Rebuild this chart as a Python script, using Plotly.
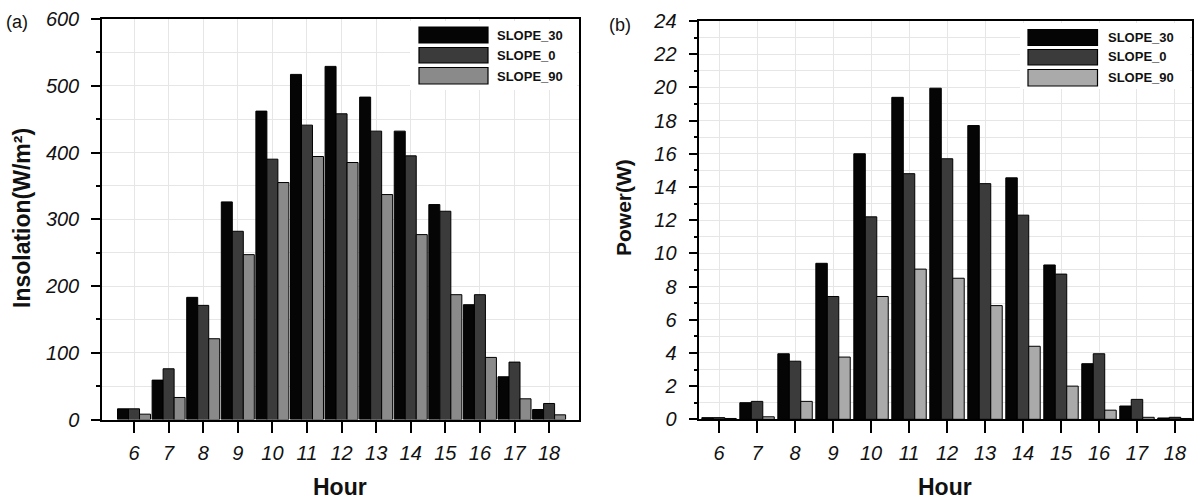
import plotly.graph_objects as go

# ---------------- data ----------------
hours = [6, 7, 8, 9, 10, 11, 12, 13, 14, 15, 16, 17, 18]
series_names = ["SLOPE_30", "SLOPE_0", "SLOPE_90"]

insolation_30 = [16, 59, 183, 326, 462, 517, 529, 483, 432, 322, 172, 64, 15]
insolation_0 = [16, 76, 171, 282, 390, 441, 458, 432, 395, 312, 187, 86, 24]
insolation_90 = [8, 33, 121, 247, 355, 394, 385, 337, 277, 187, 93, 31, 7]

power_30 = [0.1, 1.0, 3.95, 9.4, 16.0, 19.4, 19.95, 17.7, 14.55, 9.3, 3.35, 0.8, 0.08]
power_0 = [0.1, 1.08, 3.5, 7.4, 12.2, 14.8, 15.7, 14.2, 12.3, 8.75, 3.95, 1.2, 0.12]
power_90 = [0.05, 0.15, 1.08, 3.75, 7.4, 9.05, 8.5, 6.85, 4.4, 2.0, 0.55, 0.12, 0.05]

# ---------------- style ----------------
W, H = 1199, 500
FONT = "Liberation Sans"
colors_a = ["#050505", "#3b3b3b", "#8a8a8a"]
colors_b = ["#050505", "#3b3b3b", "#aaaaaa"]
GRID = "#e6e6e6"


def px(x):
    return x / W


def py(y):
    return 1 - y / H


fig = go.Figure()

# panel (a)
wa = 0.318
for vals, col, k in zip([insolation_30, insolation_0, insolation_90], colors_a, range(3)):
    fig.add_trace(go.Bar(
        x=hours, y=vals, width=wa, offset=(k - 1.5) * wa,
        marker=dict(color=col, line=dict(color="#000000", width=1)),
        xaxis="x", yaxis="y", showlegend=False, name=series_names[k]))

# panel (b)
wb = 0.302
for vals, col, k in zip([power_30, power_0, power_90], colors_b, range(3)):
    fig.add_trace(go.Bar(
        x=hours, y=vals, width=wb, offset=(k - 1.5) * wb,
        marker=dict(color=col, line=dict(color="#000000", width=1)),
        xaxis="x2", yaxis="y2", showlegend=False, name=series_names[k]))

tickfont = dict(family=FONT, size=20, color="#111111", style="italic")

xcommon = dict(
    tickvals=hours, ticktext=[str(h) for h in hours],
    ticks="outside", ticklen=12, tickwidth=1.5, tickcolor="#000000",
    showline=True, linecolor="#000000", linewidth=1.5, mirror=True,
    showgrid=True, gridcolor=GRID, gridwidth=1, zeroline=False,
    tickfont=tickfont, ticklabelstandoff=3, automargin=False,
)
ycommon = dict(
    ticks="outside", ticklen=9, tickwidth=1.5, tickcolor="#000000",
    showline=True, linecolor="#000000", linewidth=1.5, mirror=True,
    showgrid=True, gridcolor=GRID, gridwidth=1, zeroline=False,
    tickfont=tickfont, ticklabelstandoff=8, automargin=False,
)
yright = dict(
    side="right", showticklabels=False, ticks="outside", ticklen=5,
    tickwidth=1.5, tickcolor="#000000", showgrid=False, zeroline=False,
    showline=False, range=[0, 20], dtick=1, tick0=0, automargin=False,
)

fig.update_layout(
    width=W, height=H,
    margin=dict(l=0, r=0, t=0, b=0, autoexpand=False),
    paper_bgcolor="white", plot_bgcolor="white",
    barmode="overlay",
    font=dict(family=FONT, color="#111111"),
    xaxis=dict(domain=[px(102), px(578.5)], range=[5.074, 18.85], anchor="y", **xcommon),
    yaxis=dict(domain=[py(419.5), py(19)], range=[0, 600], dtick=100, tick0=0, anchor="x",
               minor=dict(dtick=50, ticks="outside", ticklen=4, tickcolor="#000000",
                          showgrid=True, gridcolor=GRID), **ycommon),
    xaxis2=dict(domain=[px(699.3), px(1191.7)], range=[5.48, 18.44], anchor="y2", **xcommon),
    yaxis2=dict(domain=[py(419.3), py(21)], range=[0, 24], dtick=2, tick0=0, anchor="x2",
                minor=dict(dtick=1, ticks="outside", ticklen=4, tickcolor="#000000",
                           showgrid=True, gridcolor=GRID), **ycommon),
    yaxis3=dict(overlaying="y", anchor="x", **yright),
    yaxis4=dict(overlaying="y2", anchor="x2", **yright),
)

shapes = []
annotations = []

# custom legends
legend_specs = [
    dict(bg=(410, 21, 577, 90), sx=(419, 488), rows=[(27, 43, 35), (47.5, 63, 55.5), (67.5, 84, 76)],
         tx=495, cols=colors_a),
    dict(bg=(1020, 23, 1190, 89), sx=(1028, 1097.5), rows=[(29.5, 45.5, 37.5), (49.5, 65, 57), (69.5, 86, 77.5)],
         tx=1106, cols=colors_b),
]
for spec in legend_specs:
    x0, y0, x1, y1 = spec["bg"]
    shapes.append(dict(type="rect", xref="paper", yref="paper", layer="above",
                       x0=px(x0), x1=px(x1), y0=py(y1), y1=py(y0),
                       fillcolor="white", line=dict(width=0)))
    for (r0, r1, ty), col, name in zip(spec["rows"], spec["cols"], series_names):
        shapes.append(dict(type="rect", xref="paper", yref="paper", layer="above",
                           x0=px(spec["sx"][0]), x1=px(spec["sx"][1]), y0=py(r1), y1=py(r0),
                           fillcolor=col, line=dict(color="#000000", width=1.2)))
        annotations.append(dict(text=name, xref="paper", yref="paper", x=px(spec["tx"]), y=py(ty),
                                xanchor="left", yanchor="middle", showarrow=False,
                                font=dict(family=FONT, size=13, color="#111111", weight="bold")))

# axis titles
annotations += [
    dict(text="Insolation(W/m²)", x=px(22), y=py(218), textangle=-90),
    dict(text="Power(W)", x=px(624), y=py(208), textangle=-90),
    dict(text="Hour", x=px(340), y=py(487)),
    dict(text="Hour", x=px(945), y=py(487)),
]
for a in annotations[-4:]:
    a.update(xref="paper", yref="paper", xanchor="center", yanchor="middle", showarrow=False,
             font=dict(family=FONT, size=23 if a["text"] != "Power(W)" else 21,
                       color="#111111", weight="bold"))

# panel labels
annotations += [
    dict(text="(a)", x=px(4), y=py(22), xanchor="left", yanchor="middle", showarrow=False,
         xref="paper", yref="paper", font=dict(family=FONT, size=18, color="#111111")),
    dict(text="(b)", x=px(607), y=py(25), xanchor="left", yanchor="middle", showarrow=False,
         xref="paper", yref="paper", font=dict(family=FONT, size=18, color="#111111")),
]

fig.update_layout(shapes=shapes, annotations=annotations)
fig.write_html("out.html",
               config={"displayModeBar": False},
               post_script="document.body.style.margin='0';document.body.style.padding='0';")
